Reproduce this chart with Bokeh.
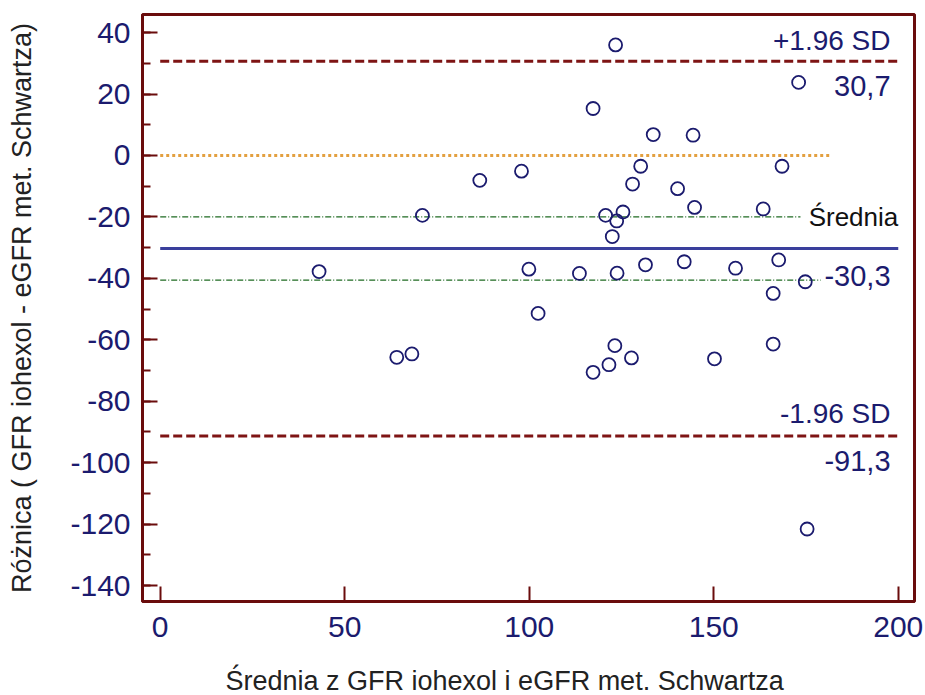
from bokeh.plotting import figure
from bokeh.models import Range1d, Label, FixedTicker, Title, PrintfTickFormatter
from bokeh.embed import file_html
from bokeh.resources import INLINE

# ---- data ----
mean_x = [43.05, 71.05, 64.1, 68.2,
          123.4, 173.0, 117.3, 133.6, 144.4, 86.6, 97.9, 130.2, 168.5, 128.0,
          140.2, 144.8, 163.4, 120.7, 125.4, 123.7, 122.5, 99.9, 113.6, 123.8,
          131.5, 142.0, 155.9, 167.6, 174.8, 166.1, 102.4, 123.2, 166.1,
          117.3, 121.6, 127.7, 150.2, 175.3]
diff_y = [-37.8, -19.5, -65.7, -64.6,
          36.0, 23.8, 15.3, 6.8, 6.6, -8.1, -5.1, -3.5, -3.5, -9.3,
          -10.8, -16.9, -17.4, -19.5, -18.4, -21.3, -26.4, -37.0, -38.4, -38.3,
          -35.6, -34.6, -36.7, -34.0, -41.1, -44.9, -51.4, -61.9, -61.4,
          -70.6, -68.1, -65.9, -66.2, -121.6]

upper_loa = 30.7
mean_diff = -30.3
lower_loa = -91.3
ci_upper = -20.0
ci_lower = -40.6
zero_line = 0.0

line_start = 0.0
loa_end = 200.0
zero_end = 182.0
ci_upper_end = 173.5
ci_lower_end = 179.0

y_ticks = [-140, -120, -100, -80, -60, -40, -20, 0, 20, 40]
y_minor = [-140, -130, -120, -110, -100, -90, -80, -70, -60, -50, -40, -30,
           -20, -10, 0, 10, 20, 30, 40]
x_ticks = [0, 50, 100, 150, 200]

x_title = "Średnia z GFR iohexol i eGFR met. Schwartza"
y_title = "Różnica ( GFR iohexol - eGFR met. Schwartza)"

# ---- styles ----
FONT = "Liberation Sans"
MAROON = "#6a0c0c"
NAVY = "#1b1b6e"
SD_RED = "#7e1414"
BLUE = "#3a3f9c"
ORANGE = "#e3a040"
GREEN = "#1f6b22"

p = figure(width=925, height=695, output_backend="svg", toolbar_location=None,
           x_range=Range1d(-4.8, 204.4), y_range=Range1d(-145.2, 45.9),
           min_border_left=142, min_border_right=11, min_border_top=14,
           min_border_bottom=92)
p.background_fill_color = "white"
p.border_fill_color = "white"
p.outline_line_color = MAROON
p.outline_line_width = 3
p.xgrid.visible = False
p.ygrid.visible = False

for ax in (p.xaxis[0], p.yaxis[0]):
    ax.axis_line_color = MAROON
    ax.axis_line_width = 3
    ax.major_tick_line_color = MAROON
    ax.major_tick_line_width = 2
    ax.major_tick_in = 15
    ax.major_tick_out = 0
    ax.minor_tick_line_color = MAROON
    ax.minor_tick_line_width = 2
    ax.minor_tick_in = 8
    ax.minor_tick_out = 0
    ax.major_label_text_font = FONT
    ax.major_label_text_font_size = "30px"
    ax.major_label_text_color = NAVY
    ax.formatter = PrintfTickFormatter(format="%d")

p.yaxis[0].ticker = FixedTicker(ticks=y_ticks, minor_ticks=y_minor)
p.xaxis[0].ticker = FixedTicker(ticks=x_ticks, minor_ticks=[])
p.yaxis[0].major_label_standoff = 12
p.xaxis[0].major_label_standoff = 15

p.yaxis[0].axis_label = y_title
p.yaxis[0].axis_label_text_font = FONT
p.yaxis[0].axis_label_text_font_size = "27px"
p.yaxis[0].axis_label_text_font_style = "normal"
p.yaxis[0].axis_label_text_color = "#222222"
p.yaxis[0].axis_label_standoff = 30

# reference lines
p.line([line_start, loa_end], [upper_loa, upper_loa], line_color=SD_RED,
       line_width=3, line_dash="9 4")
p.line([line_start, loa_end], [lower_loa, lower_loa], line_color=SD_RED,
       line_width=3, line_dash="9 4")
p.line([line_start, zero_end], [zero_line, zero_line], line_color=ORANGE,
       line_width=3, line_dash="3 3")
p.line([line_start, ci_upper_end], [ci_upper, ci_upper], line_color=GREEN,
       line_width=1.2, line_dash="6 2 1 2")
p.line([line_start, ci_lower_end], [ci_lower, ci_lower], line_color=GREEN,
       line_width=1.2, line_dash="6 2 1 2")
p.line([line_start, loa_end], [mean_diff, mean_diff], line_color=BLUE,
       line_width=3)

# points
p.scatter(mean_x, diff_y, marker="circle", size=13, fill_color=None,
          line_color=NAVY, line_width=1.8)

# annotations
def lab(text, x, y, dy, size, color=NAVY):
    p.add_layout(Label(x=x, y=y, y_offset=dy, text=text, text_align="right",
                       text_baseline="middle", text_font=FONT,
                       text_font_size=size, text_color=color))

lab("+1.96 SD", 197.9, upper_loa, 21, "28px")
lab("30,7", 197.9, upper_loa, -25, "29px")
lab("Średnia", 200.0, ci_upper, 0, "26px", "#111111")
lab("-30,3", 197.9, mean_diff, -27, "29px")
lab("-1.96 SD", 197.9, lower_loa, 22, "28px")
lab("-91,3", 197.9, lower_loa, -25, "29px")

# spacer between the tick labels and the x-axis title
p.add_layout(Title(text=" ", text_font_size="1px", standoff=21), "below")
p.add_layout(Title(text=x_title, align="left", offset=83,
                   text_font=FONT, text_font_size="27px",
                   text_font_style="normal", text_color="#222222",
                   standoff=0), "below")

open("out.html", "w").write(file_html(p, INLINE))
